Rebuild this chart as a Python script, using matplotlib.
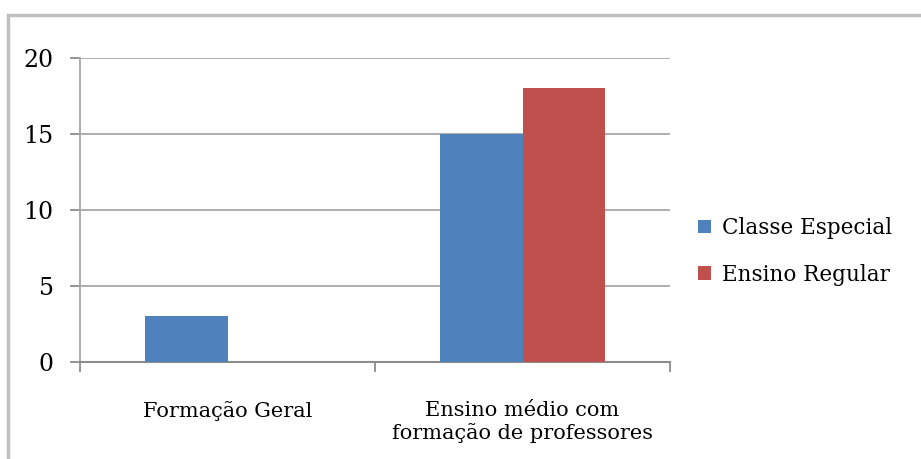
import matplotlib.pyplot as plt
from matplotlib.patches import Rectangle
import numpy as np

categories = ['Formação Geral', 'Ensino médio com\nformação de professores']
classe_especial = [3, 15]
ensino_regular = [0, 18]
series_names = ['Classe Especial', 'Ensino Regular']
colors = ['#4f81bd', '#c0504d']

plt.rcParams['font.family'] = ['DejaVu Serif']

fig = plt.figure(figsize=(9.21, 4.59), dpi=100)
# outer chart frame, cut off at right/bottom like the screenshot
fig.patches.append(Rectangle((0.009, -0.1), 1.2, 1.067, transform=fig.transFigure,
                             fill=False, edgecolor='#c0c0c0', linewidth=2.5))

ax = fig.add_axes([0.0869, 0.2113, 0.6406, 0.6623])
x = np.arange(len(categories))
w = 0.28
ax.bar(x - w / 2, classe_especial, w, color=colors[0], label=series_names[0], zorder=3)
ax.bar(x + w / 2, ensino_regular, w, color=colors[1], label=series_names[1], zorder=3)

ax.set_xlim(-0.5, 1.5)
ax.set_ylim(0, 20)
ax.set_yticks([0, 5, 10, 15, 20])
ax.yaxis.grid(True, color='#a6a6a6', linewidth=1.3, zorder=0)
ax.set_xticks(x)
ax.set_xticklabels(categories, fontsize=15, linespacing=1.2)
ax.set_xticks([-0.5, 0.5, 1.5], minor=True)
ax.tick_params(axis='x', which='major', length=0, pad=28)
ax.tick_params(axis='x', which='minor', length=7, color='#8c8c8c', width=1.3)
ax.tick_params(axis='y', length=7, color='#8c8c8c', width=1.3, labelsize=17, pad=12)
for s in ['top', 'right']:
    ax.spines[s].set_visible(False)
ax.spines['left'].set_color('#a6a6a6')
ax.spines['left'].set_linewidth(1.3)
ax.spines['bottom'].set_color('#8c8c8c')
ax.spines['bottom'].set_linewidth(1.5)

fig.legend(loc='center left', bbox_to_anchor=(0.737, 0.452), frameon=False,
           fontsize=15.5, handlelength=0.6, handleheight=0.6, labelspacing=1.15,
           handletextpad=0.5)

fig.savefig('out.png', dpi=100)
